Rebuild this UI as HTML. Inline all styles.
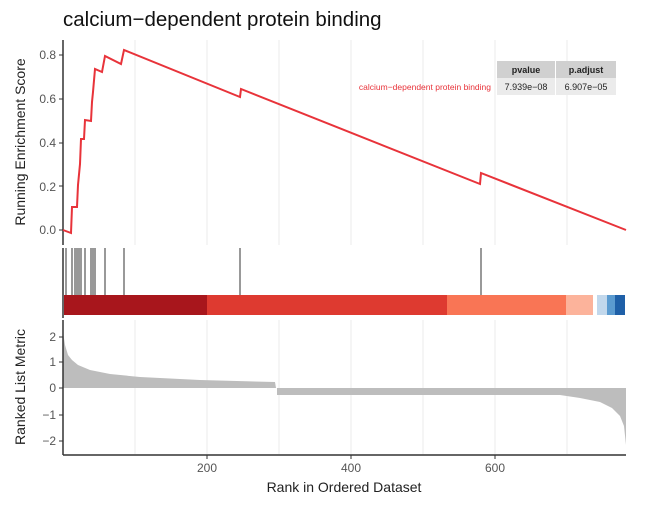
<!DOCTYPE html>
<html><head><meta charset="utf-8"><style>
html,body{margin:0;padding:0;background:#fff;}
svg{display:block;font-family:"Liberation Sans",sans-serif;}
</style></head><body>
<svg width="650" height="512" viewBox="0 0 650 512">
<text x="63" y="26" font-size="20.5" fill="#111">calcium−dependent protein binding</text>
<g stroke="#ebebeb" stroke-width="1">
<line x1="135" y1="40" x2="135" y2="245"/><line x1="207" y1="40" x2="207" y2="245"/><line x1="279" y1="40" x2="279" y2="245"/><line x1="351" y1="40" x2="351" y2="245"/><line x1="423" y1="40" x2="423" y2="245"/><line x1="495" y1="40" x2="495" y2="245"/><line x1="567" y1="40" x2="567" y2="245"/>
<line x1="135" y1="320" x2="135" y2="454"/><line x1="207" y1="320" x2="207" y2="454"/><line x1="279" y1="320" x2="279" y2="454"/><line x1="351" y1="320" x2="351" y2="454"/><line x1="423" y1="320" x2="423" y2="454"/><line x1="495" y1="320" x2="495" y2="454"/><line x1="567" y1="320" x2="567" y2="454"/>
</g>
<line x1="63" y1="40" x2="63" y2="245" stroke="#333" stroke-width="1.5"/>
<g font-size="12" fill="#555" text-anchor="end">
<text x="56" y="234">0.0</text><text x="56" y="191">0.2</text><text x="56" y="147">0.4</text><text x="56" y="103">0.6</text><text x="56" y="59">0.8</text>
</g>
<g stroke="#333"><line x1="59" y1="230" x2="63" y2="230"/><line x1="59" y1="186" x2="63" y2="186"/><line x1="59" y1="143" x2="63" y2="143"/><line x1="59" y1="99" x2="63" y2="99"/><line x1="59" y1="55" x2="63" y2="55"/></g>
<text transform="translate(25,142) rotate(-90)" font-size="14" fill="#222" text-anchor="middle">Running Enrichment Score</text>
<polyline fill="none" stroke="#e8333a" stroke-width="2" points="63,230 71,233 72,207 77,207 78,185 80,164 81,139 84,139 85,120 91,121 92,102 93,92 95,69 102,72 105,56 121,64 124,50 240,97 241,89 480,184 481,173 626,230"/>
<rect x="497" y="61" width="58" height="17" fill="#d0d0d0"/><rect x="556" y="61" width="60" height="17" fill="#d0d0d0"/>
<rect x="497" y="78" width="58" height="17" fill="#ebebeb"/><rect x="556" y="78" width="60" height="17" fill="#ebebeb"/>
<g font-size="9" text-anchor="middle" fill="#222"><text x="526" y="73" font-weight="bold">pvalue</text><text x="586" y="73" font-weight="bold">p.adjust</text><text x="526" y="90">7.939e−08</text><text x="586" y="90">6.907e−05</text></g>
<text x="491" y="90" font-size="8.5" fill="#e8333a" text-anchor="end">calcium−dependent protein binding</text>
<line x1="63" y1="248" x2="63" y2="318" stroke="#333" stroke-width="1.5"/>
<g stroke="#333" stroke-width="1"><line x1="66" y1="248" x2="66" y2="295"/><line x1="72" y1="248" x2="72" y2="295"/><line x1="75" y1="248" x2="75" y2="295"/><line x1="77" y1="248" x2="77" y2="295"/><line x1="79" y1="248" x2="79" y2="295"/><line x1="81" y1="248" x2="81" y2="295"/><line x1="85" y1="248" x2="85" y2="295"/><line x1="91" y1="248" x2="91" y2="295"/><line x1="93" y1="248" x2="93" y2="295"/><line x1="95" y1="248" x2="95" y2="295"/><line x1="105" y1="248" x2="105" y2="295"/><line x1="124" y1="248" x2="124" y2="295"/><line x1="240" y1="248" x2="240" y2="295"/><line x1="481" y1="248" x2="481" y2="295"/></g>
<rect x="64" y="295" width="143" height="20" fill="#a8161c"/>
<rect x="207" y="295" width="240" height="20" fill="#de3a30"/>
<rect x="447" y="295" width="119" height="20" fill="#f97555"/>
<rect x="566" y="295" width="27" height="20" fill="#fcb39b"/>
<rect x="597" y="295" width="10" height="20" fill="#c2d8ec"/>
<rect x="607" y="295" width="8" height="20" fill="#5b9bd0"/>
<rect x="615" y="295" width="10" height="20" fill="#1f60a8"/>
<polygon fill="#bdbdbd" points="63,388 63,332 65,345 68,355 72,360 78,365 90,370 110,374 140,377 200,380 275,382 276,388 277,388 277,395 560,395 580,398 600,402 612,408 620,416 624,426 626,445 626,388"/>
<line x1="63" y1="320" x2="63" y2="455" stroke="#333" stroke-width="1.5"/>
<line x1="63" y1="455" x2="626" y2="455" stroke="#333" stroke-width="1.5"/>
<g font-size="12" fill="#555" text-anchor="end"><text x="56" y="341">2</text><text x="56" y="366">1</text><text x="56" y="392">0</text><text x="56" y="419">−1</text><text x="56" y="445">−2</text></g>
<g stroke="#333"><line x1="59" y1="337" x2="63" y2="337"/><line x1="59" y1="362" x2="63" y2="362"/><line x1="59" y1="388" x2="63" y2="388"/><line x1="59" y1="415" x2="63" y2="415"/><line x1="59" y1="441" x2="63" y2="441"/><line x1="207" y1="455" x2="207" y2="459"/><line x1="351" y1="455" x2="351" y2="459"/><line x1="495" y1="455" x2="495" y2="459"/></g>
<text transform="translate(25,387) rotate(-90)" font-size="14" fill="#222" text-anchor="middle">Ranked List Metric</text>
<g font-size="12" fill="#555" text-anchor="middle"><text x="207" y="472">200</text><text x="351" y="472">400</text><text x="495" y="472">600</text></g>
<text x="344" y="492" font-size="14" fill="#222" text-anchor="middle">Rank in Ordered Dataset</text>
</svg>
</body></html>
